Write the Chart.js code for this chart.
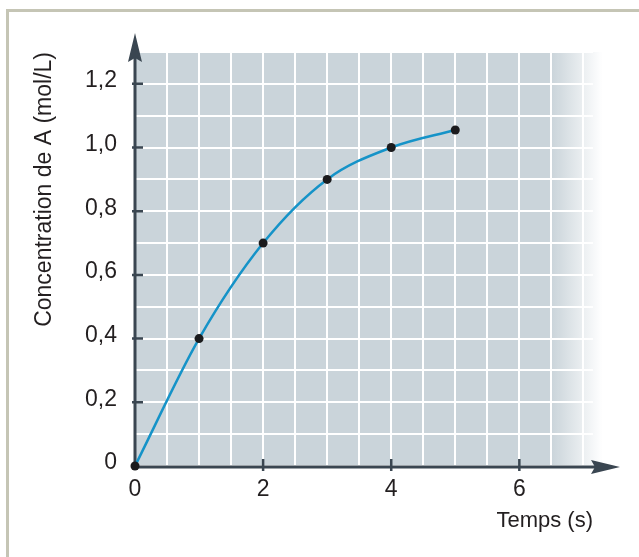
<!DOCTYPE html>
<html lang="fr">
<head>
<meta charset="utf-8">
<title>Concentration de A</title>
<script src="https://cdn.jsdelivr.net/npm/chart.js@4.4.0/dist/chart.umd.min.js"></script>
<style>
  html, body { margin: 0; padding: 0; background: #fff; overflow: hidden; }
  #cadre {
    position: absolute; left: 6px; top: 9px; width: 700px; height: 600px;
    border-top: 3px solid #c5c5b5; border-left: 3px solid #c5c5b5;
  }
  #graphique { position: absolute; left: 0; top: 0; }
</style>
</head>
<body>
<div id="cadre"></div>
<canvas id="graphique" width="639" height="557"></canvas>
<script>
// Données
const temps = [0, 1, 2, 3, 4, 5];
const concentration = [0, 0.40, 0.70, 0.90, 1.00, 1.055];
const graduationsX = [0, 2, 4, 6];
const graduationsY = [0, 0.2, 0.4, 0.6, 0.8, 1.0, 1.2];

const couleurAxe = '#3a4651';
const couleurFond = [202, 212, 218];
const police = "'Liberation Sans', Arial, sans-serif";

function estGraduation(liste, v) {
    return liste.some(function(t) { return Math.abs(t - v) < 1e-6; });
}

function formatFr(v) {
    if (Math.abs(v) < 1e-9) return '0';
    return v.toFixed(1).replace('.', ',');
}

// Fond gris (avec fondu à droite), axes fléchés et petites graduations
const fondEtAxes = {
    id: 'fondEtAxes',
    beforeDraw(chart) {
        const { ctx, chartArea, scales: { x } } = chart;
        const x0 = x.getPixelForValue(0);
        const xFondu = x.getPixelForValue(6.5);
        const xFin = x.getPixelForValue(7.3);
        const h = chartArea.bottom - chartArea.top;
        const c = couleurFond.join(',');
        ctx.save();
        ctx.fillStyle = 'rgb(' + c + ')';
        ctx.fillRect(x0, chartArea.top, xFondu - x0, h);
        const grad = ctx.createLinearGradient(xFondu, 0, xFin, 0);
        grad.addColorStop(0, 'rgba(' + c + ',1)');
        grad.addColorStop(1, 'rgba(' + c + ',0)');
        ctx.fillStyle = grad;
        ctx.fillRect(xFondu, chartArea.top, xFin - xFondu, h);
        ctx.restore();
    },
    beforeDatasetsDraw(chart) {
        const { ctx, chartArea, scales: { x, y } } = chart;
        const x0 = x.getPixelForValue(0);
        const y0 = y.getPixelForValue(0) + 1;
        const hautY = chartArea.top - 19;
        const finX = chartArea.right + 27;
        ctx.save();
        ctx.strokeStyle = couleurAxe;
        ctx.fillStyle = couleurAxe;
        ctx.lineWidth = 3;
        ctx.beginPath();
        ctx.moveTo(x0, y0);
        ctx.lineTo(x0, hautY + 20);
        ctx.moveTo(x0 - 1.5, y0);
        ctx.lineTo(finX - 20, y0);
        ctx.stroke();

        // flèche verticale
        ctx.beginPath();
        ctx.moveTo(x0, hautY);
        ctx.lineTo(x0 - 7, hautY + 29);
        ctx.lineTo(x0, hautY + 25);
        ctx.lineTo(x0 + 7, hautY + 29);
        ctx.closePath();
        ctx.fill();
        // flèche horizontale
        ctx.beginPath();
        ctx.moveTo(finX, y0);
        ctx.lineTo(finX - 29, y0 - 7);
        ctx.lineTo(finX - 25, y0);
        ctx.lineTo(finX - 29, y0 + 7);
        ctx.closePath();
        ctx.fill();

        ctx.lineWidth = 2.5;
        ctx.beginPath();
        graduationsY.forEach(function(v) {
            if (v === 0) return;
            const py = y.getPixelForValue(v);
            ctx.moveTo(x0 - 3, py);
            ctx.lineTo(x0 + 8, py);
        });
        graduationsX.forEach(function(v) {
            if (v === 0) return;
            const px = x.getPixelForValue(v);
            ctx.moveTo(px, y0 - 8);
            ctx.lineTo(px, y0 + 4);
        });
        ctx.stroke();
        ctx.restore();
    }
};

const ctx = document.getElementById('graphique').getContext('2d');
new Chart(ctx, {
    type: 'line',
    data: {
        datasets: [{
            data: temps.map(function(t, i) { return { x: t, y: concentration[i] }; }),
            borderColor: '#1593c8',
            borderWidth: 2.5,
            pointBackgroundColor: '#1b1b1d',
            pointBorderWidth: 0,
            pointRadius: 4.5,
            cubicInterpolationMode: 'monotone',
            fill: false,
            clip: false
        }]
    },
    options: {
        responsive: false,
        animation: false,
        layout: { padding: { top: 52, left: 0, right: 46, bottom: 0 } },
        plugins: {
            legend: { display: false },
            tooltip: { enabled: false }
        },
        scales: {
            x: {
                type: 'linear',
                min: 0,
                max: 7.15,
                afterFit: function(scale) { scale.height = 91; },
                border: { display: false },
                grid: { color: '#ffffff', lineWidth: 2, drawTicks: false },
                ticks: {
                    stepSize: 0.5,
                    includeBounds: false,
                    autoSkip: false,
                    maxRotation: 0,
                    padding: 10,
                    color: '#231f20',
                    font: { family: police, size: 23 },
                    callback: function(v) { return estGraduation(graduationsX, v) ? String(v) : ''; }
                },
                title: {
                    display: true,
                    text: 'Temps (s)',
                    align: 'end',
                    color: '#231f20',
                    font: { family: police, size: 22 },
                    padding: { top: 0, bottom: 23 }
                }
            },
            y: {
                type: 'linear',
                min: 0,
                max: 1.3,
                afterFit: function(scale) { scale.width = 135; },
                border: { display: false },
                grid: { color: '#ffffff', lineWidth: 2, drawTicks: false },
                ticks: {
                    stepSize: 0.1,
                    autoSkip: false,
                    padding: 18,
                    labelOffset: -3,
                    color: '#231f20',
                    font: { family: police, size: 23 },
                    callback: function(v) { return estGraduation(graduationsY, v) ? formatFr(v) : ''; }
                },
                title: {
                    display: true,
                    text: 'Concentration de A (mol/L)',
                    align: 'end',
                    color: '#231f20',
                    font: { family: police, size: 23 },
                    padding: { top: 31, bottom: 0 }
                }
            }
        }
    },
    plugins: [fondEtAxes]
});
</script>
</body>
</html>
